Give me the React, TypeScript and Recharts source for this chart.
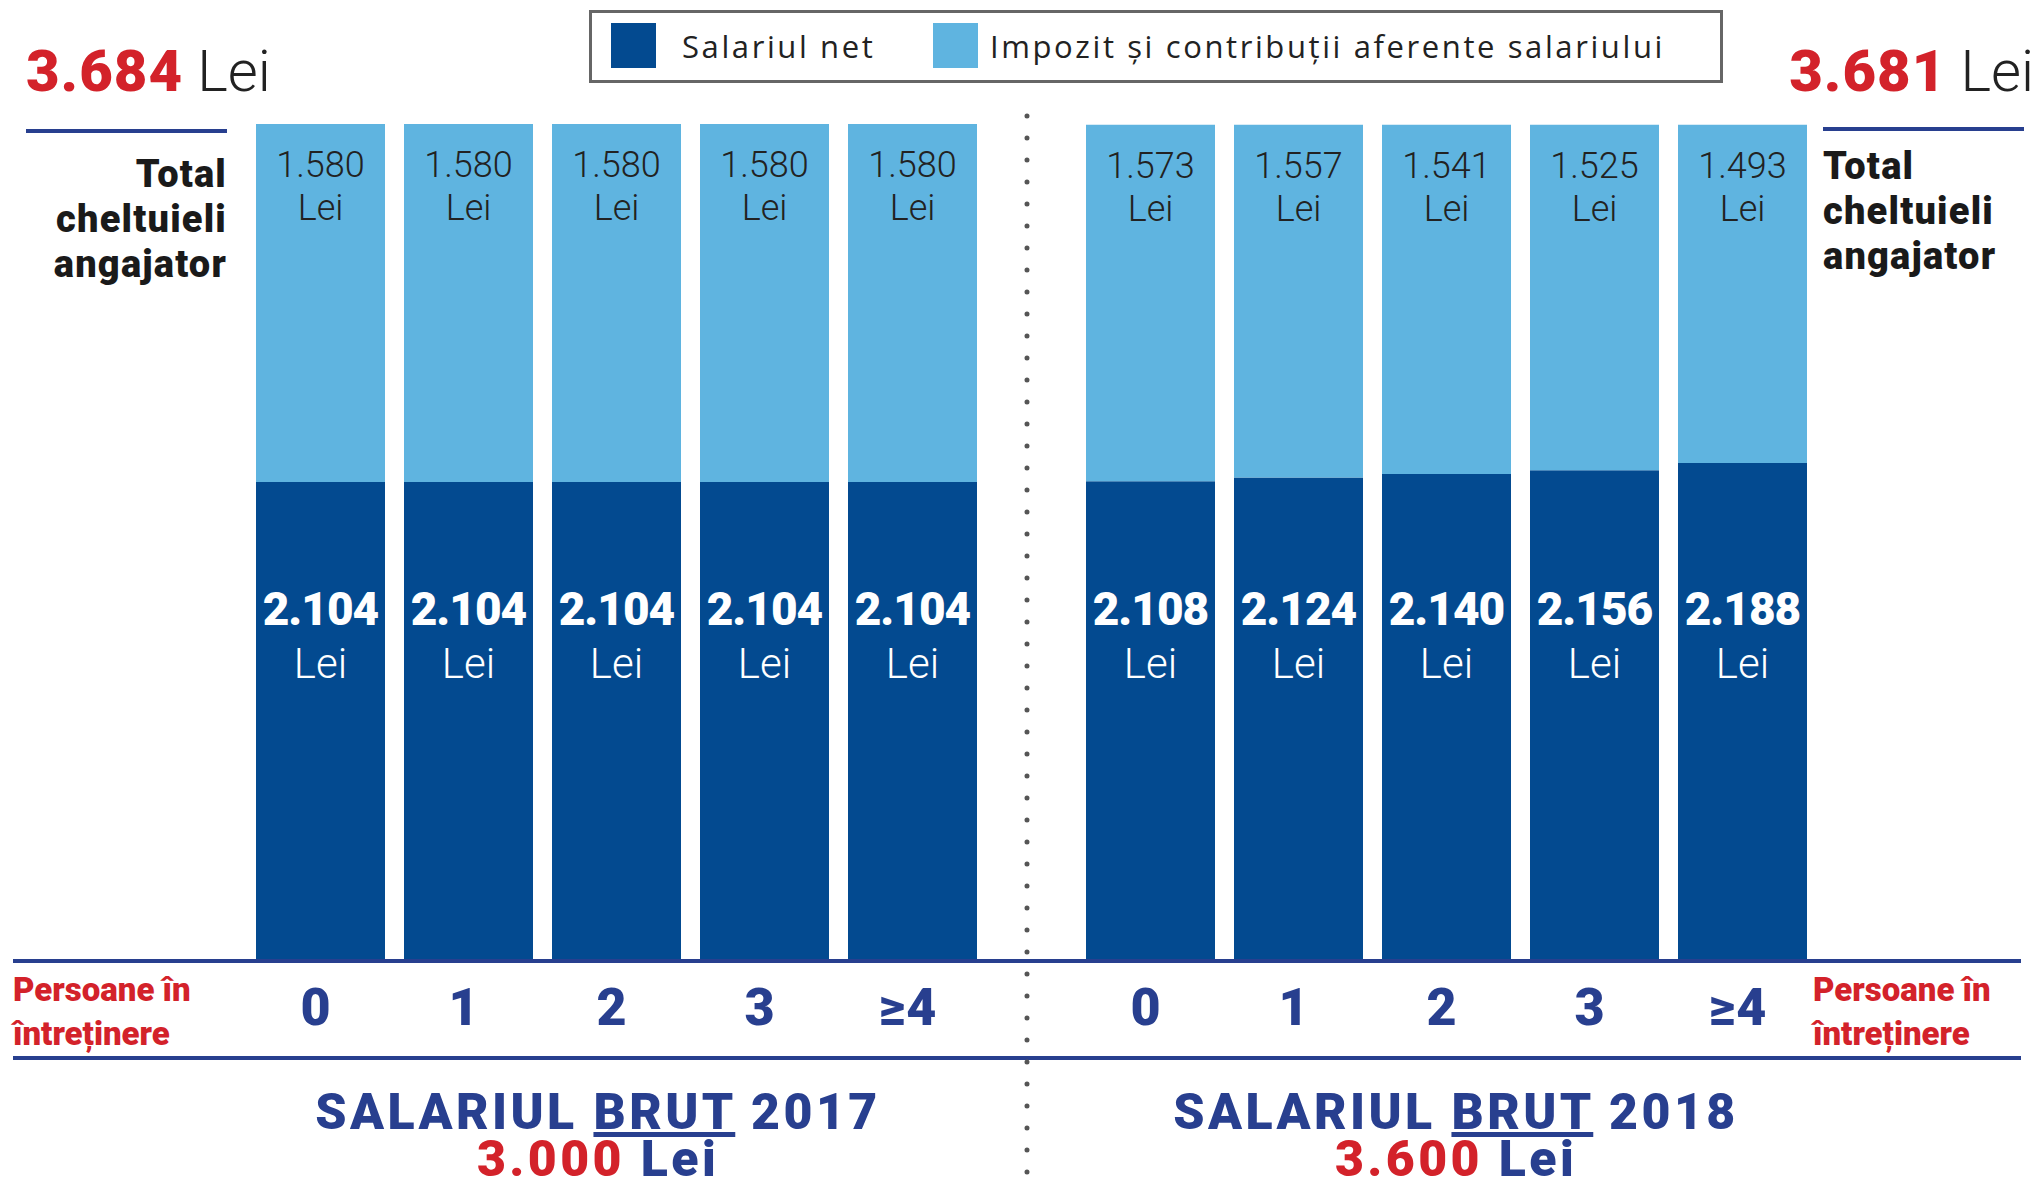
import { BarChart, Bar, XAxis, YAxis, LabelList, Legend } from 'recharts';

const categories = ['0', '1', '2', '3', '≥4'];
const net2017 = [2104, 2104, 2104, 2104, 2104];
const tax2017 = [1580, 1580, 1580, 1580, 1580];
const net2018 = [2108, 2124, 2140, 2156, 2188];
const tax2018 = [1573, 1557, 1541, 1525, 1493];
const gross2017 = 3000;
const gross2018 = 3600;

const DARK = '#034a90';
const LIGHT = '#5fb4e0';
const NAVY = '#283f8f';
const RED = '#d3222a';
const FONT = 'Roboto, "DejaVu Sans", sans-serif';

const fmt = (n: number) => String(n).replace(/\B(?=(\d{3})+(?!\d))/g, '.');

const data2017 = categories.map((c, i) => ({ persoane: c, net: net2017[i], tax: tax2017[i] }));
const data2018 = categories.map((c, i) => ({ persoane: c, net: net2018[i], tax: tax2018[i] }));
const total2017 = net2017[0] + tax2017[0];
const total2018 = net2018[0] + tax2018[0];

function box(props: any) {
  const vb = props.viewBox || {};
  return {
    x: vb.x ?? props.x,
    y: vb.y ?? props.y,
    w: vb.width ?? props.width,
    h: vb.height ?? props.height,
  };
}

const NetLabel = (props: any) => {
  const { x, y, w, h } = box(props);
  const cx = x + w / 2;
  const bottom = y + h;
  return (
    <g fontFamily={FONT} fill="#fff" textAnchor="middle">
      <text x={cx} y={bottom - 334} fontSize={46} fontWeight={900} letterSpacing={-1}>
        {fmt(props.value)}
      </text>
      <text x={cx} y={bottom - 281} fontSize={42} fontWeight={300}>
        Lei
      </text>
    </g>
  );
};

const TaxLabel = (props: any) => {
  const { x, y, w } = box(props);
  const cx = x + w / 2;
  return (
    <g fontFamily={FONT} fill="#222" textAnchor="middle">
      <text x={cx} y={y + 53} fontSize={36} fontWeight={300}>
        {fmt(props.value)}
      </text>
      <text x={cx} y={y + 96} fontSize={36} fontWeight={300}>
        Lei
      </text>
    </g>
  );
};

const PersTick = (props: any) => {
  const { x, y, payload } = props;
  return (
    <text x={x - 4} y={y + 66} textAnchor="middle" fontFamily={FONT} fontSize={52} fontWeight={900} fill={NAVY} letterSpacing={1}>
      {payload.value}
    </text>
  );
};

const LegendBox = () => (
  <div
    style={{
      position: 'relative',
      boxSizing: 'border-box',
      width: 1134,
      height: 73,
      border: '3px solid #666',
      fontFamily: '"Open Sans", sans-serif',
      fontSize: 31,
      letterSpacing: 2.6,
      color: '#222',
    }}
  >
    <div style={{ position: 'absolute', left: 19, top: 10, width: 45, height: 45, background: DARK }} />
    <div style={{ position: 'absolute', left: 90, top: 0, lineHeight: '66px' }}>Salariul net</div>
    <div style={{ position: 'absolute', left: 341, top: 10, width: 45, height: 45, background: LIGHT }} />
    <div style={{ position: 'absolute', left: 398, top: 0, lineHeight: '66px', whiteSpace: 'nowrap' }}>
      Impozit și contribuții aferente salariului
    </div>
  </div>
);

const CHART_W = 740;
const CHART_H = 1069;
const MARGIN = { top: 75, right: 0, bottom: 0, left: 0 };

function Group({ data, left, legend }: { data: any[]; left: number; legend?: boolean }) {
  return (
    <div style={{ position: 'absolute', left, top: 0 }}>
      <BarChart width={CHART_W} height={CHART_H} data={data} margin={MARGIN}>
        <XAxis
          dataKey="persoane"
          axisLine={false}
          tickLine={false}
          tickSize={0}
          tickMargin={0}
          height={110}
          tick={<PersTick />}
          interval={0}
        />
        <YAxis hide domain={[0, 3900]} />
        {legend && (
          <Legend
            layout="horizontal"
            verticalAlign="middle"
            align="center"
            content={<LegendBox />}
            wrapperStyle={{ left: 589 - left, top: 10, width: 1134, height: 73 }}
          />
        )}
        <Bar dataKey="net" name="Salariul net" stackId="s" fill={DARK} barSize={129} isAnimationActive={false}>
          <LabelList dataKey="net" content={<NetLabel />} />
        </Bar>
        <Bar
          dataKey="tax"
          name="Impozit și contribuții aferente salariului"
          stackId="s"
          fill={LIGHT}
          barSize={129}
          isAnimationActive={false}
        >
          <LabelList dataKey="tax" content={<TaxLabel />} />
        </Bar>
      </BarChart>
    </div>
  );
}

export default function App() {
  return (
    <div style={{ position: 'relative', width: 2038, height: 1184, margin: -8, background: '#fff', overflow: 'hidden' }}>
      <svg width={2038} height={1184} style={{ position: 'absolute', left: 0, top: 0 }} fontFamily={FONT}>
        {/* totals top left / right */}
        <text x={26} y={91} fontSize={58}>
          <tspan fill={RED} fontWeight={900} letterSpacing={1}>{fmt(total2017)}</tspan>
          <tspan fill="#222" fontWeight={300}> Lei</tspan>
        </text>
        <rect x={26} y={129} width={201} height={4} fill={NAVY} />
        <text x={2034} y={91} fontSize={58} textAnchor="end">
          <tspan fill={RED} fontWeight={900} letterSpacing={1}>{fmt(total2018)}</tspan>
          <tspan fill="#222" fontWeight={300}> Lei</tspan>
        </text>
        <rect x={1823} y={127} width={201} height={4} fill={NAVY} />

        <g fontSize={38} fontWeight={900} fill="#1a1a1a" letterSpacing={1.2}>
          <text x={227} y={187} textAnchor="end">Total</text>
          <text x={227} y={232} textAnchor="end">cheltuieli</text>
          <text x={227} y={277} textAnchor="end">angajator</text>
          <text x={1823} y={179}>Total</text>
          <text x={1823} y={224}>cheltuieli</text>
          <text x={1823} y={269}>angajator</text>
        </g>

        {/* axis rules */}
        <rect x={13} y={959} width={2008} height={4} fill={NAVY} />
        <rect x={13} y={1056} width={2008} height={4} fill={NAVY} />

        <g fontSize={33} fontWeight={900} fill={RED}>
          <text x={13} y={1001}>Persoane în</text>
          <text x={13} y={1045}>întreținere</text>
          <text x={1813} y={1001}>Persoane în</text>
          <text x={1813} y={1045}>întreținere</text>
        </g>

        {/* separator */}
        <line x1={1027} y1={116} x2={1027} y2={1180} stroke="#555" strokeWidth={5} strokeDasharray="0 22" strokeLinecap="round" />

        {/* group titles */}
        <g fontSize={50} fontWeight={900} textAnchor="middle" letterSpacing={3.4}>
          <text x={598} y={1129} fill={NAVY}>
            SALARIUL <tspan style={{ textDecoration: 'underline' }}>BRUT</tspan> 2017
          </text>
          <text x={598} y={1176}>
            <tspan fill={RED}>{fmt(gross2017)}</tspan>
            <tspan fill={NAVY}> Lei</tspan>
          </text>
          <text x={1456} y={1129} fill={NAVY}>
            SALARIUL <tspan style={{ textDecoration: 'underline' }}>BRUT</tspan> 2018
          </text>
          <text x={1456} y={1176}>
            <tspan fill={RED}>{fmt(gross2018)}</tspan>
            <tspan fill={NAVY}> Lei</tspan>
          </text>
        </g>
      </svg>
      <Group data={data2017} left={246} legend />
      <Group data={data2018} left={1076} />
    </div>
  );
}
